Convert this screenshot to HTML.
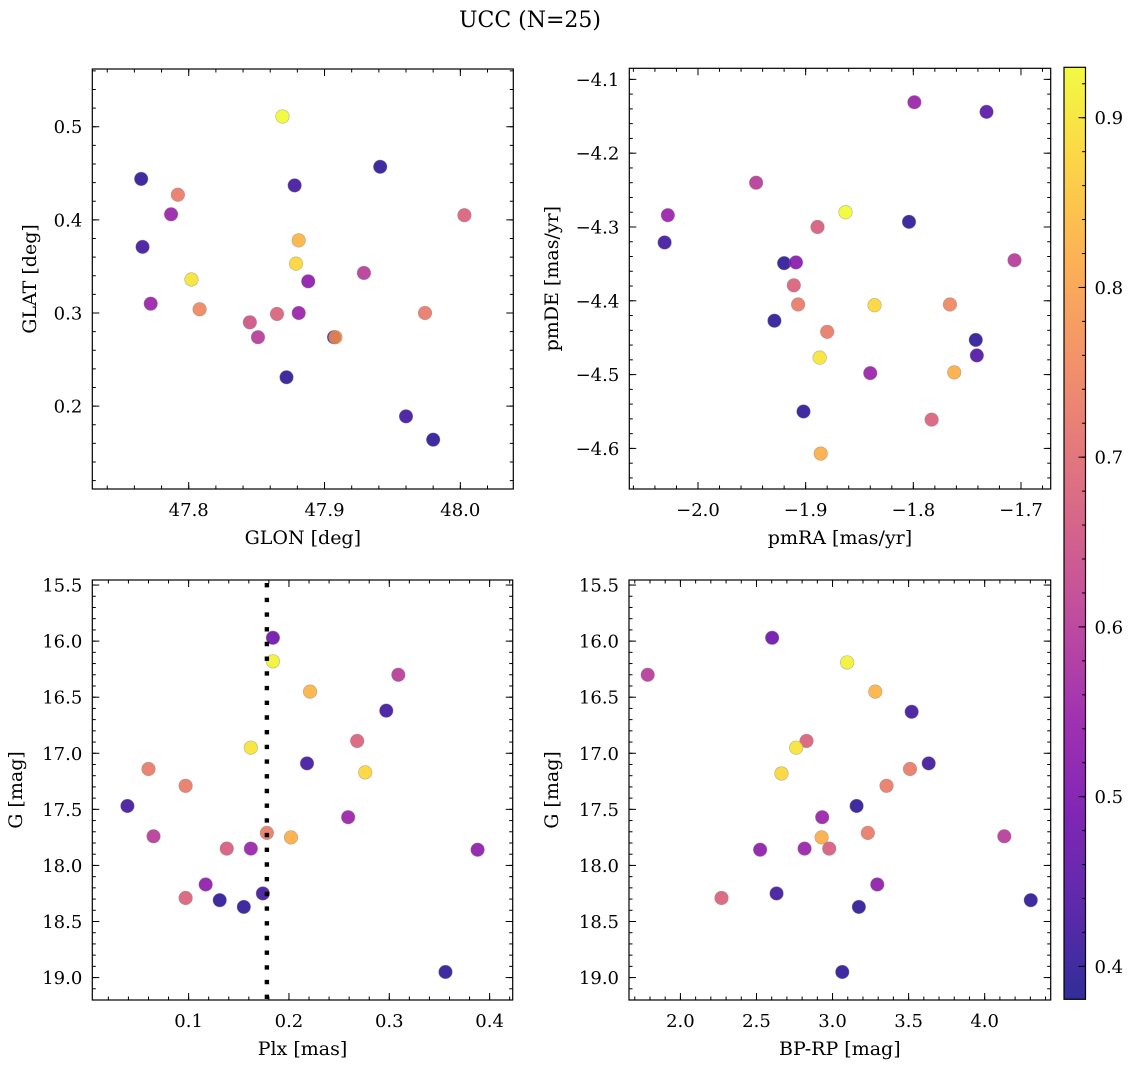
<!DOCTYPE html>
<html><head><meta charset="utf-8"><style>
html,body{margin:0;padding:0;background:#fff;}
svg{display:block;font-family:"DejaVu Serif","Liberation Serif",serif;}
</style></head><body>
<svg id="fig" width="1136" height="1067" viewBox="0 0 1136 1067" xmlns="http://www.w3.org/2000/svg">
<defs>
<linearGradient id="plasma" x1="0" y1="1" x2="0" y2="0"></linearGradient>
</defs>
<text x="530" y="27" text-anchor="middle" font-size="22">UCC (N=25)</text>
</svg>
<script>
// ---- data: top-left (GLON vs GLAT)
const glonX = [47.765,47.792,47.787,47.766,47.802,47.772,47.808,47.845,47.851,47.865,47.869,47.872,47.878,47.881,47.879,47.881,47.888,47.907,47.908,47.941,47.929,47.960,47.980,47.974,48.003];
const glatY = [0.444,0.427,0.406,0.371,0.336,0.310,0.304,0.290,0.274,0.299,0.511,0.231,0.437,0.378,0.353,0.300,0.334,0.274,0.274,0.457,0.343,0.189,0.164,0.300,0.405];
const glColor = [0.40,0.73,0.55,0.42,0.90,0.55,0.75,0.65,0.60,0.68,0.93,0.40,0.42,0.83,0.88,0.55,0.53,0.42,0.78,0.40,0.60,0.42,0.40,0.73,0.68];
// ---- data: top-right (pmRA vs pmDE)
const pmraX = [-2.031,-2.028,-1.946,-1.920,-1.909,-1.911,-1.907,-1.929,-1.889,-1.880,-1.863,-1.887,-1.902,-1.886,-1.840,-1.836,-1.804,-1.799,-1.766,-1.762,-1.783,-1.742,-1.741,-1.732,-1.706];
const pmdeY = [-4.321,-4.284,-4.240,-4.349,-4.348,-4.379,-4.405,-4.427,-4.300,-4.442,-4.280,-4.477,-4.550,-4.607,-4.498,-4.406,-4.293,-4.131,-4.405,-4.497,-4.561,-4.453,-4.474,-4.144,-4.345];
const pmColor = [0.42,0.55,0.60,0.40,0.52,0.68,0.73,0.40,0.67,0.73,0.93,0.90,0.40,0.82,0.55,0.88,0.40,0.55,0.75,0.82,0.68,0.40,0.44,0.45,0.60];
// ---- data: bottom-left (Plx vs G)
const plxX = [0.039,0.060,0.097,0.065,0.138,0.162,0.162,0.178,0.202,0.184,0.184,0.221,0.218,0.268,0.276,0.259,0.297,0.309,0.388,0.356,0.097,0.117,0.131,0.155,0.174];
const plxG = [17.47,17.14,17.29,17.74,17.85,17.85,16.95,17.71,17.75,15.97,16.18,16.45,17.09,16.89,17.17,17.57,16.62,16.30,17.86,18.95,18.29,18.17,18.31,18.37,18.25];
const plxColor = [0.42,0.73,0.73,0.60,0.67,0.55,0.90,0.73,0.82,0.48,0.92,0.83,0.42,0.68,0.88,0.55,0.42,0.60,0.53,0.40,0.68,0.53,0.40,0.40,0.42];
const plxCut = [0.178];
// ---- data: bottom-right (BP-RP vs G)
const bprpX = [1.785,2.603,3.096,3.281,3.520,2.829,2.761,2.664,3.632,3.509,3.355,3.158,2.932,3.232,2.928,2.978,2.816,2.524,4.129,2.270,2.632,3.294,3.173,4.303,3.064];
const bprpG = [16.30,15.97,16.19,16.45,16.63,16.89,16.95,17.18,17.09,17.14,17.29,17.47,17.57,17.71,17.75,17.85,17.85,17.86,17.74,18.29,18.25,18.17,18.37,18.31,18.95];
const bprpColor = [0.60,0.48,0.92,0.83,0.42,0.68,0.90,0.88,0.42,0.73,0.73,0.40,0.55,0.73,0.82,0.67,0.55,0.53,0.60,0.68,0.42,0.53,0.40,0.40,0.40];
// ---- colorbar ticks
const cbTicks = [0.4,0.5,0.6,0.7,0.8,0.9];

const NS = "http://www.w3.org/2000/svg";
const svg = document.getElementById('fig');
const VMIN = 0.3806, VMAX = 0.9297;
const stops = ["#0d0887","#41049d","#6a00a8","#8f0da4","#b12a90","#cc4778","#e16462","#f2844b","#fca636","#fcce25","#f0f921"];
function hex(h){return [parseInt(h.slice(1,3),16),parseInt(h.slice(3,5),16),parseInt(h.slice(5,7),16)];}
function plasma(t){t=Math.max(0,Math.min(1,t));const p=t*10;const i=Math.min(9,Math.floor(p));const f=p-i;const a=hex(stops[i]),b=hex(stops[i+1]);
 return 'rgb('+a.map((v,k)=>Math.round(v+(b[k]-v)*f)).join(',')+')';}
function cmap(v){return plasma((v-VMIN)/(VMAX-VMIN));}
function el(tag,attrs,parent){const e=document.createElementNS(NS,tag);for(const k in attrs)e.setAttribute(k,attrs[k]);(parent||svg).appendChild(e);return e;}
function fmt(v,d){const s=Math.abs(v).toFixed(d);return (v<-1e-9?'\u2212':'')+s;}

function panel(cfg){
 const g=el('g',{});
 
 
 const L=cfg.box[0],T=cfg.box[1],R=cfg.box[2],B=cfg.box[3];
 const sx=v=>L+(v-cfg.xd[0])/(cfg.xd[1]-cfg.xd[0])*(R-L);
 const sy=cfg.inv ? (v=>T+(v-cfg.yd[0])/(cfg.yd[1]-cfg.yd[0])*(B-T)) : (v=>B-(v-cfg.yd[0])/(cfg.yd[1]-cfg.yd[0])*(B-T));
 const cl='clip'+cfg.name;
 const cp=el('clipPath',{id:cl},g);el('rect',{x:L,y:T,width:R-L,height:B-T},cp);
 const tg=el('g',{stroke:'#000','stroke-width':1},g);
 function ticks(d0,d1,step,len,axis,label,dec,tickName){
  const s=Math.ceil(d0/step-1e-6);
  for(let k=s;k*step<=d1+1e-9;k++){
   const v=k*step;
   if(axis==='x'){const x=sx(v);
    el('line',{x1:x,y1:B,x2:x,y2:B-len},tg);el('line',{x1:x,y1:T,x2:x,y2:T+len},tg);
    if(label){const t=el('text',{x:x,y:B+27,'text-anchor':'middle','font-size':18,stroke:'none'},g);t.textContent=fmt(v,dec);
     
     }
   }else{const y=sy(v);
    el('line',{x1:L,y1:y,x2:L+len,y2:y},tg);el('line',{x1:R,y1:y,x2:R-len,y2:y},tg);
    if(label){const t=el('text',{x:L-10,y:y+6.5,'text-anchor':'end','font-size':18,stroke:'none'},g);t.textContent=fmt(v,dec);
     
     }
   }
  }
 }
 ticks(cfg.xd[0],cfg.xd[1],cfg.xminor,3.5,'x',false,0,'');
 ticks(cfg.xd[0],cfg.xd[1],cfg.xmajor,7,'x',true,cfg.xdec,'x-tick-label');
 ticks(cfg.yd[0],cfg.yd[1],cfg.yminor,3.5,'y',false,0,'');
 ticks(cfg.yd[0],cfg.yd[1],cfg.ymajor,7,'y',true,cfg.ydec,'y-tick-label');
 const pg=el('g',{'clip-path':'url(#'+cl+')'},g);
 for(let i=0;i<cfg.xs.length;i++){
  const c=el('circle',{cx:sx(cfg.xs[i]),cy:sy(cfg.ys[i]),r:6.8,fill:cmap(cfg.cs[i]),'fill-opacity':0.85,stroke:'#888','stroke-opacity':0.6,'stroke-width':0.6},pg);
  
  
 }
 if(cfg.vline){const x=sx(cfg.vline[0]);
  const ln=el('line',{x1:x,y1:T+3,x2:x,y2:B,stroke:'#000','stroke-width':4.4,'stroke-dasharray':'4.4 10.3','clip-path':'url(#'+cl+')'},g);
  
  }
 el('rect',{x:L,y:T,width:R-L,height:B-T,fill:'none',stroke:'#000','stroke-width':1.2},g);
 const xl=el('text',{x:(L+R)/2,y:B+55,'text-anchor':'middle','font-size':19},g);xl.textContent=cfg.xlabel;
 
 
 const yx=cfg.ylx, yy=(T+B)/2;
 const yl=el('text',{x:yx,y:yy,'text-anchor':'middle','font-size':19,transform:'rotate(-90 '+yx+' '+yy+')'},g);yl.textContent=cfg.ylabel;
 
 
}

panel({name:'glon-glat-panel',box:[92.3,69,513.3,489],xd:[47.729,48.039],yd:[0.111,0.562],xmajor:0.1,xminor:0.02,ymajor:0.1,yminor:0.02,xdec:1,ydec:1,
 xs:glonX,ys:glatY,cs:glColor,xlabel:'GLON [deg]',ylabel:'GLAT [deg]',ylx:36});
panel({name:'pm-panel',box:[629.3,68.3,1050.7,489],xd:[-2.0638,-1.6724],yd:[-4.655,-4.085],xmajor:0.1,xminor:0.02,ymajor:0.1,yminor:0.02,xdec:1,ydec:1,
 xs:pmraX,ys:pmdeY,cs:pmColor,xlabel:'pmRA [mas/yr]',ylabel:'pmDE [mas/yr]',ylx:558});
panel({name:'plx-g-panel',box:[92.3,580,512.7,1000],xd:[0.004,0.423],yd:[15.455,19.2],ymajor:0.5,yminor:0.1,xmajor:0.1,xminor:0.02,xdec:1,ydec:1,inv:true,
 xs:plxX,ys:plxG,cs:plxColor,xlabel:'Plx [mas]',ylabel:'G [mag]',ylx:22,vline:plxCut});
panel({name:'color-g-panel',box:[629,580,1050.7,1000],xd:[1.662,4.434],yd:[15.455,19.2],ymajor:0.5,yminor:0.1,xmajor:0.5,xminor:0.1,xdec:1,ydec:1,inv:true,
 xs:bprpX,ys:bprpG,cs:bprpColor,xlabel:'BP-RP [mag]',ylabel:'G [mag]',ylx:558});

(function(){
 const L=1064,R=1085.5,T=67.3,B=999.3;
 const sy=v=>B-(v-VMIN)/(VMAX-VMIN)*(B-T);
 const grad=document.getElementById('plasma');
 for(let i=0;i<=20;i++){const s=document.createElementNS(NS,'stop');s.setAttribute('offset',i/20);s.setAttribute('stop-color',plasma(i/20));s.setAttribute('stop-opacity',0.85);grad.appendChild(s);}
 const g=el('g',{});
 
 
 el('rect',{x:L,y:T,width:R-L,height:B-T,fill:'url(#plasma)'},g);
 for(let v=0.38;v<=0.93;v+=0.02){const y=sy(v);if(y<T||y>B)continue;el('line',{x1:R,y1:y,x2:R-3.5,y2:y,stroke:'#000','stroke-width':1},g);}
 cbTicks.forEach(v=>{const y=sy(v);el('line',{x1:R,y1:y,x2:R-7,y2:y,stroke:'#000','stroke-width':1},g);
  const t=el('text',{x:R+9,y:y+6.5,'font-size':18},g);t.textContent=v.toFixed(1);
  
  });
 el('rect',{x:L,y:T,width:R-L,height:B-T,fill:'none',stroke:'#000','stroke-width':1.2},g);
})();
</script>
</body></html>
